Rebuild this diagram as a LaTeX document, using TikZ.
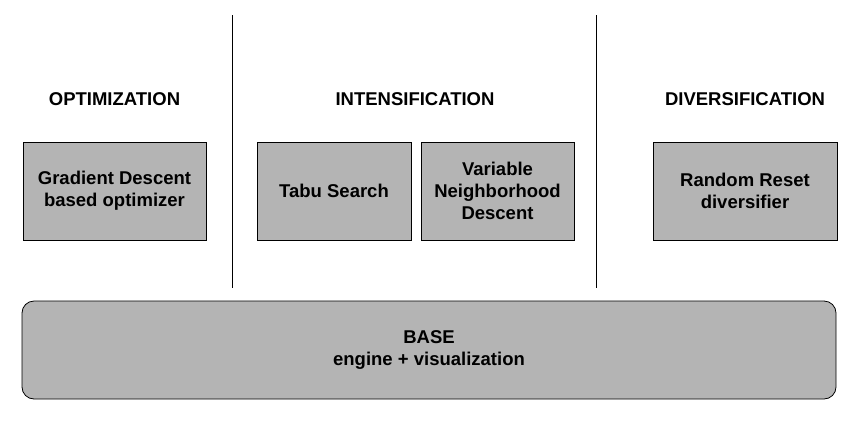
\documentclass[tikz,border=0pt]{standalone}
\usepackage{fontspec}
\setmainfont{Liberation Sans}
\definecolor{boxgray}{RGB}{180,180,180}
\begin{document}
\begin{tikzpicture}[x=1pt,y=-1pt,
  font=\bfseries\fontsize{18.5}{22}\selectfont,
  module/.style={draw=black, line width=0.8pt, fill=boxgray, align=center, inner sep=0pt},
  heading/.style={anchor=center},
  divider/.style={draw=black, line width=0.8pt}]
\useasboundingbox (0,0) rectangle (864,426);
\node[module, minimum width=183, minimum height=98] (gd) at (114.5,191) {Gradient Descent\\based optimizer};
\node[module, minimum width=154, minimum height=98] (tabu) at (334,191) {Tabu Search};
\node[module, minimum width=153, minimum height=98] (vnd) at (497.5,191) {Variable\\Neighborhood\\Descent};
\node[module, minimum width=184, minimum height=98] (rr) at (745,191) {Random Reset\\diversifier};
\node[module, rounded corners=12pt, minimum width=814, minimum height=98] (base) at (429,350) {BASE\\engine + visualization};
\node[heading] (h1) at (114.5,99) {OPTIMIZATION};
\node[heading] (h2) at (415,99) {INTENSIFICATION};
\node[heading] (h3) at (745,99) {DIVERSIFICATION};
\coordinate (d1t) at (232,15);
\coordinate (d1b) at (232,288);
\coordinate (d2t) at (596,15);
\coordinate (d2b) at (596,288);
\draw[divider] (d1t) -- (d1b);
\draw[divider] (d2t) -- (d2b);
\end{tikzpicture}
\end{document}
